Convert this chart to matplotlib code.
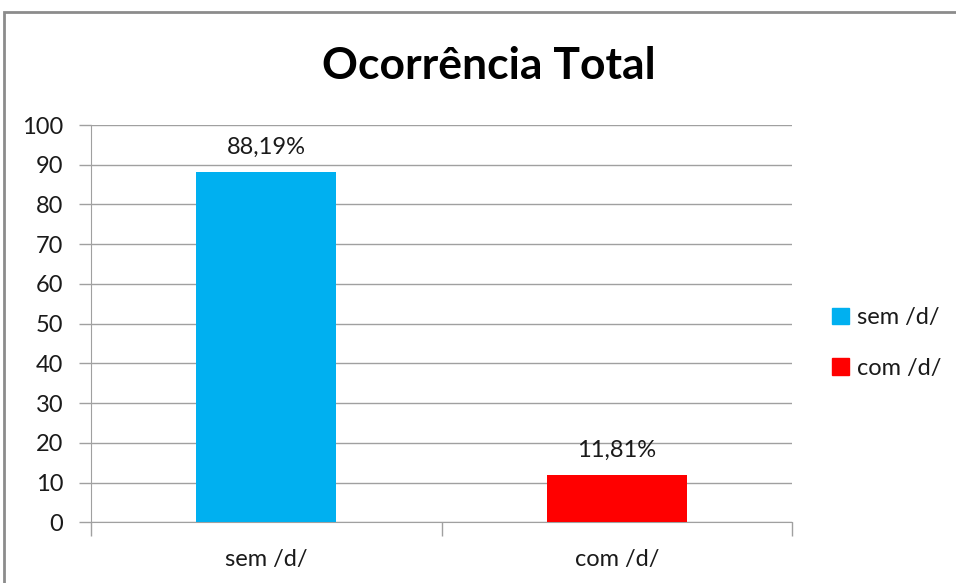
import matplotlib
matplotlib.use("Agg")
import matplotlib.pyplot as plt
from matplotlib.patches import Rectangle

categories = ["sem /d/", "com /d/"]
values = [88.19, 11.81]
value_labels = ["88,19%", "11,81%"]
colors = ["#00B0F0", "#FF0000"]
yticks = [0, 10, 20, 30, 40, 50, 60, 70, 80, 90, 100]

plt.rcParams['font.family'] = ['Lato', 'DejaVu Sans']
TXT = "#1A1A1A"
FS = 17

fig = plt.figure(figsize=(9.56, 5.83), dpi=100)
ax = fig.add_axes([91/956, 1-522.3/583, (792-91)/956, (522.3-125)/583])

x = list(range(len(categories)))
bars = ax.bar(x, values, width=0.4, color=colors, zorder=3)

ax.set_xlim(-0.5, len(categories) - 0.5)
ax.set_ylim(0, 100)
ax.set_yticks(yticks)
ax.set_yticklabels([str(t) for t in yticks], fontsize=FS, color=TXT)

# major ticks at category boundaries (marks only), minor at centers (labels only)
ax.set_xticks([i - 0.5 for i in range(len(categories) + 1)])
ax.set_xticklabels([])
ax.set_xticks(x, minor=True)
ax.set_xticklabels(categories, minor=True, fontsize=FS, color=TXT)
ax.tick_params(axis='x', which='major', length=10, color="#A0A0A0", width=1)
ax.tick_params(axis='x', which='minor', length=0, pad=19)
ax.tick_params(axis='y', length=9, color="#A0A0A0", width=1, pad=11)

ax.grid(axis='y', color="#A0A0A0", linewidth=1, zorder=0)
for s in ['top', 'right']:
    ax.spines[s].set_visible(False)
ax.spines['left'].set_color("#A0A0A0")
ax.spines['bottom'].set_color("#A0A0A0")
ax.spines['left'].set_bounds(0, 100)

for b, lab in zip(bars, value_labels):
    ax.annotate(lab, (b.get_x() + b.get_width()/2, b.get_height()),
                xytext=(0, 18), textcoords='offset points', ha='center', va='center',
                fontsize=FS, color=TXT)

handles = [Rectangle((0, 0), 1, 1, color=c) for c in colors]
fig.legend(handles, categories, loc='center left', bbox_to_anchor=(811/956, 1-343/583),
           frameon=False, fontsize=FS, handlelength=0.7, handleheight=0.7,
           handletextpad=0.35, labelspacing=1.25, labelcolor=TXT)

fig.text(489/956, 1-66/583, "Ocorrência Total", ha='center', va='center',
         fontsize=32, fontweight='bold', color="#000000")

fig.patches.append(Rectangle((4/956, -0.05), 1.0, 1-12/583+0.05, transform=fig.transFigure,
                             fill=False, edgecolor="#8C8C8C", linewidth=2))

fig.savefig("out.png", dpi=100)
